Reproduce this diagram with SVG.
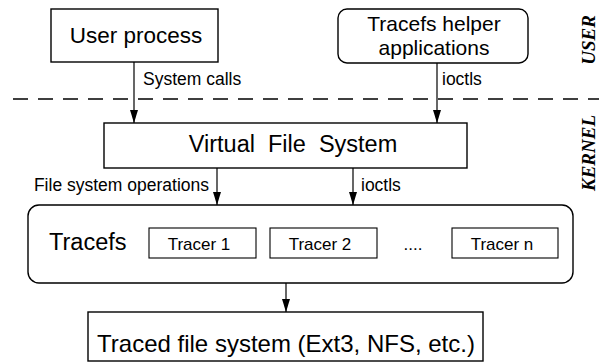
<svg xmlns="http://www.w3.org/2000/svg" width="599" height="362" viewBox="0 0 599 362">
<style>
.box{fill:#fff;stroke:#000;stroke-width:1.4}
.sbox{fill:#fff;stroke:#000;stroke-width:1.1}
.t{font-family:"Liberation Sans",Arial,sans-serif;fill:#000}
.lbl{font-size:17.5px}
.tr{font-size:17px}
.side{font-family:"Liberation Serif","Times New Roman",serif;font-style:italic;font-weight:bold;font-size:19px;fill:#000}
.conn{stroke:#000;stroke-width:1.2;fill:none}
</style>
<defs>
<marker id="ah" markerUnits="userSpaceOnUse" markerWidth="14" markerHeight="10" refX="13" refY="4" orient="auto">
<path d="M0,0 L13,4 L0,8 Z" fill="#000"/>
</marker>
</defs>
<line x1="13" y1="99" x2="599" y2="99" stroke="#000" stroke-width="1.3" stroke-dasharray="15 10"/>
<g id="user-process">
<rect class="box" x="51" y="9" width="167" height="53"/>
<text class="t" x="136" y="43" font-size="22.5" text-anchor="middle">User process</text>
</g>
<g id="helper-apps">
<rect class="box" x="338" y="9" width="190" height="54" rx="9"/>
<text class="t" x="434" y="31" font-size="21" text-anchor="middle">Tracefs helper</text>
<text class="t" x="434" y="55" font-size="21" text-anchor="middle">applications</text>
</g>
<g id="vfs">
<rect class="box" x="104" y="123" width="363" height="45"/>
<text class="t" x="293" y="152" font-size="23.5" text-anchor="middle" xml:space="preserve">Virtual  File  System</text>
</g>
<g id="tracefs">
<rect class="box" x="28" y="205" width="545" height="78" rx="11"/>
<text class="t" x="49" y="250" font-size="23.5">Tracefs</text>
</g>
<g id="tracer1">
<rect class="sbox" x="149" y="228" width="107" height="30"/>
<text class="t tr" x="199" y="250" text-anchor="middle">Tracer 1</text>
</g>
<g id="tracer2">
<rect class="sbox" x="270" y="228" width="107" height="30"/>
<text class="t tr" x="320" y="250" text-anchor="middle">Tracer 2</text>
</g>
<g id="dots">
<text class="t tr" x="413" y="250" text-anchor="middle">....</text>
</g>
<g id="tracern">
<rect class="sbox" x="452" y="228" width="106" height="30"/>
<text class="t tr" x="502" y="250" text-anchor="middle">Tracer n</text>
</g>
<g id="traced-fs">
<rect class="box" x="88" y="312" width="395" height="49"/>
<text class="t" x="286" y="352" font-size="24" text-anchor="middle">Traced file system (Ext3, NFS, etc.)</text>
</g>
<g id="side-labels">
<text class="side" transform="translate(595,40) rotate(-90)" text-anchor="middle">USER</text>
<text class="side" transform="translate(595,153) rotate(-90)" text-anchor="middle">KERNEL</text>
</g>
<g id="connectors">
<line class="conn" x1="134" y1="62" x2="134" y2="123" marker-end="url(#ah)"/>
<text class="t lbl" x="143" y="85">System calls</text>
<line class="conn" x1="437" y1="63" x2="437" y2="123" marker-end="url(#ah)"/>
<text class="t lbl" x="442" y="85">ioctls</text>
<line class="conn" x1="217" y1="168" x2="217" y2="205" marker-end="url(#ah)"/>
<text class="t lbl" x="209" y="191" text-anchor="end">File system operations</text>
<line class="conn" x1="353" y1="168" x2="353" y2="205" marker-end="url(#ah)"/>
<text class="t lbl" x="361" y="191">ioctls</text>
<line class="conn" x1="286" y1="283" x2="286" y2="312" marker-end="url(#ah)"/>
</g>
</svg>
